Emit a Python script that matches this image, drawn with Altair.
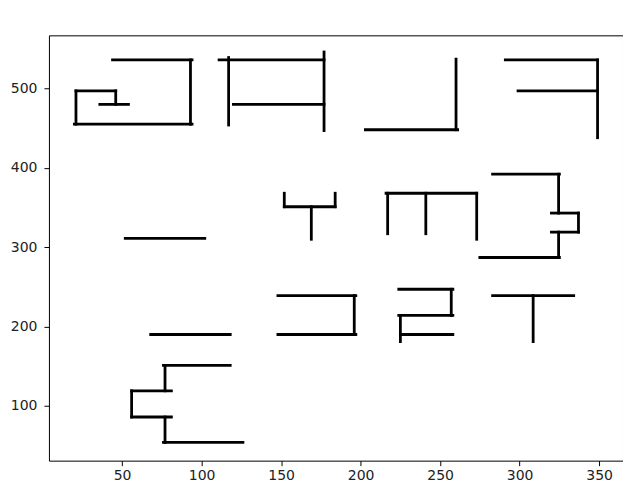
import altair as alt
import pandas as pd

# segment endpoints (data units)
x1 = [44, 93, 20, 21, 21, 46, 36,
      111, 117, 177, 120,
      152, 152, 184, 169,
      52,
      260, 203,
      291, 349, 299,
      216, 217, 241, 273,
      283, 324.5, 320, 337, 320, 324.5, 275,
      224, 257, 224, 225, 225,
      283, 308.5,
      148, 196, 148,
      68,
      76, 77, 56, 56, 56, 77, 76]
y1 = [536, 536, 455, 455, 497, 497, 480,
      536, 539, 546, 480,
      351, 368, 368, 351,
      311,
      537, 448,
      536, 536, 497,
      368, 368, 368, 368,
      392, 392, 343, 343, 319, 319, 287,
      247, 247, 214, 214, 190,
      239, 239,
      239, 239, 190,
      190,
      151, 151, 119, 119, 86, 86, 54]
x2 = [94, 93, 94, 21, 46, 46, 54,
      177, 117, 177, 177,
      184, 152, 184, 169,
      102,
      260, 261,
      349, 349, 349,
      273, 217, 241, 273,
      325, 324.5, 337, 337, 337, 324.5, 325,
      258, 257, 258, 225, 258,
      334, 308.5,
      197, 196, 197,
      118,
      118, 77, 81, 56, 81, 77, 126]
y2 = [536, 455, 455, 497, 497, 480, 480,
      536, 454, 447, 480,
      351, 351, 351, 310,
      311,
      448, 448,
      536, 438, 497,
      368, 317, 317, 310,
      392, 343, 343, 319, 319, 287, 287,
      247, 214, 214, 181, 190,
      239, 181,
      239, 190, 190,
      190,
      151, 119, 119, 86, 86, 54, 54]

df = pd.DataFrame({"x1": x1, "y1": y1, "x2": x2, "y2": y2})

axis_style = dict(
    grid=False,
    domain=False,
    tickColor="black",
    tickSize=5,
    labelColor="#222222",
    labelFont="DejaVu Sans",
    labelFontSize=14,
    title=None,
)

chart = (
    alt.Chart(df)
    .mark_rule(color="black", strokeWidth=2.8, strokeCap="square")
    .encode(
        x=alt.X("x1:Q", scale=alt.Scale(domain=[4, 365], nice=False, zero=False),
                axis=alt.Axis(values=[50, 100, 150, 200, 250, 300, 350],
                              labelPadding=3, **axis_style)),
        x2="x2:Q",
        y=alt.Y("y1:Q", scale=alt.Scale(domain=[31, 567], nice=False, zero=False),
                axis=alt.Axis(values=[100, 200, 300, 400, 500],
                              labelPadding=7, **axis_style)),
        y2="y2:Q",
    )
    .properties(
        width=575,
        height=426,
        autosize=alt.AutoSizeParams(type="none"),
        padding={"left": 41, "top": 27, "right": 0, "bottom": 22},
    )
    .configure_view(stroke="black", strokeWidth=1)
)

chart.save("out.html", embed_options={"renderer": "svg", "actions": False})
